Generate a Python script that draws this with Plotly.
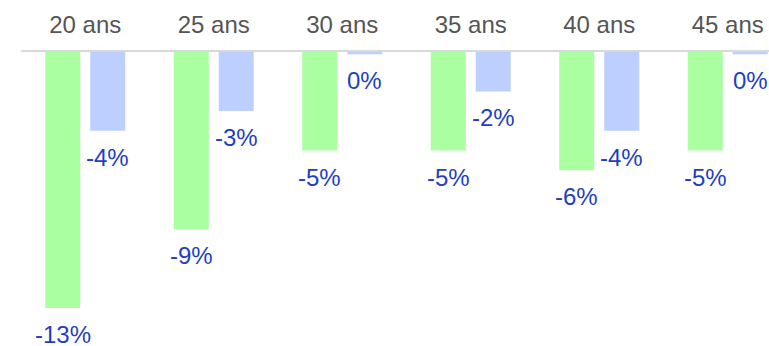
import plotly.graph_objects as go

# Age groups and the two series of percentage changes
categories = ["20 ans", "25 ans", "30 ans", "35 ans", "40 ans", "45 ans"]
green_values = [-13, -9, -5, -5, -6, -5]
blue_values = [-4, -3, -0.12, -2, -4, -0.12]

GREEN = "#aaffa0"
BLUE = "#bccfff"
LABEL_BLUE = "#1f3fbf"

W, H = 769, 346
M_L, M_R, M_T, M_B = 21, 0, 52, 0
CAT_PX = 128.5
PX_PER_UNIT = 19.7

x_hi = -0.5 + (W - M_L - M_R) / CAT_PX
y_lo = -(H - M_T - M_B) / PX_PER_UNIT

fig = go.Figure()
fig.add_trace(go.Bar(x=categories, y=green_values, marker_color=GREEN,
                     marker_line_width=0, hoverinfo="skip"))
fig.add_trace(go.Bar(x=categories, y=blue_values, marker_color=BLUE,
                     marker_line_width=0, hoverinfo="skip"))


def fmt(v):
    return f"{int(round(v))}%"


# value labels below the end of each bar
for series, shift in ((green_values, -22.5), (blue_values, 22.5)):
    for cat, v in zip(categories, series):
        fig.add_annotation(x=cat, y=v, xref="x", yref="y", text=fmt(v),
                           showarrow=False, xanchor="center", yanchor="top",
                           xshift=shift, yshift=-11,
                           font=dict(family="Liberation Sans, Arial", size=24,
                                     color=LABEL_BLUE))

fig.update_layout(
    width=W, height=H,
    margin=dict(l=M_L, r=M_R, t=M_T, b=M_B, pad=0),
    paper_bgcolor="white", plot_bgcolor="white",
    barmode="group", bargap=0.30, bargroupgap=0.222,
    showlegend=False,
    xaxis=dict(side="top", range=[-0.5, x_hi], showline=True,
               linecolor="#d9d9d9", linewidth=2, showgrid=False,
               ticks="", ticklabelstandoff=7,
               tickfont=dict(family="Liberation Sans, Arial", size=24,
                             color="#555555")),
    yaxis=dict(range=[y_lo, 0], visible=False, showgrid=False,
               zeroline=False),
)

fig.write_html("out.html")
